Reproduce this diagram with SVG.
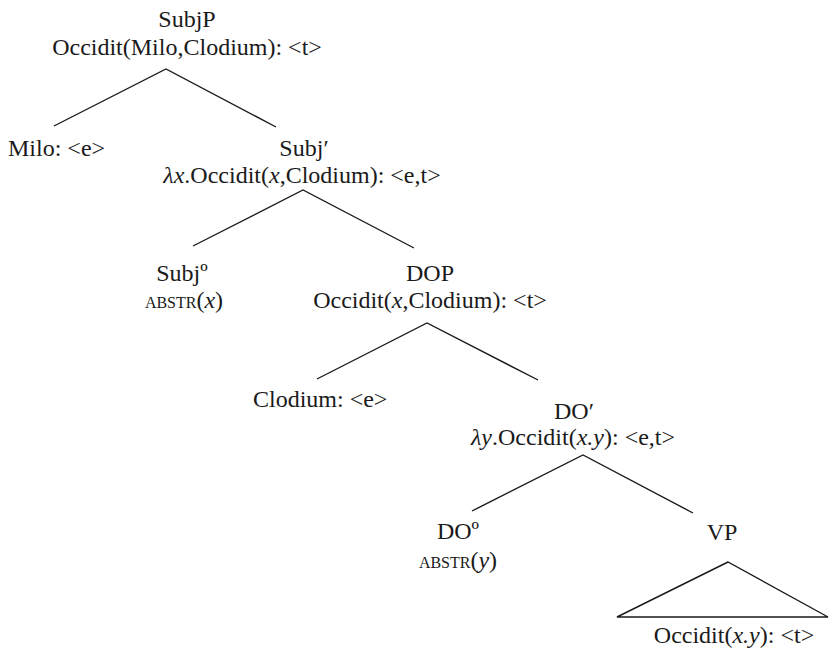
<svg xmlns="http://www.w3.org/2000/svg" width="829" height="650" viewBox="0 0 829 650">
<style>
text{font-family:"Liberation Serif","Times New Roman",serif;font-size:24px;fill:#1a1a1a}
.m{text-anchor:middle}
.i{font-style:italic}
.sc{font-size:16px}
.ln{stroke:#1a1a1a;stroke-width:1.4;fill:none}
</style>
<rect width="829" height="650" fill="#fff"/>
<g id="connectors">
<polyline class="ln" points="54,126 166,69 276,127"/>
<polyline class="ln" points="193,246 303,190 414,248"/>
<polyline class="ln" points="317,379 427,323 538,380"/>
<polyline class="ln" points="472,511 583,455 693,513"/>
<polygon class="ln" points="728,562 617,617 828,617"/>
</g>
<g id="SubjP">
<text class="m" x="187" y="27">SubjP</text>
<text class="m" x="187" y="55">Occidit(Milo,Clodium): &lt;t&gt;</text>
</g>
<g id="Milo">
<text x="8" y="156">Milo: &lt;e&gt;</text>
</g>
<g id="SubjBar">
<text class="m" x="304" y="156">Subj′</text>
<text class="m" x="302" y="183"><tspan class="i">λx</tspan>.Occidit(<tspan class="i">x</tspan>,Clodium): &lt;e,t&gt;</text>
</g>
<g id="SubjHead">
<text class="m" x="182" y="281">Subjº</text>
<text class="m" x="184" y="308"><tspan class="sc">ABSTR</tspan>(<tspan class="i">x</tspan>)</text>
</g>
<g id="DOP">
<text class="m" x="430" y="281">DOP</text>
<text class="m" x="430" y="308">Occidit(<tspan class="i">x</tspan>,Clodium): &lt;t&gt;</text>
</g>
<g id="Clodium">
<text x="253" y="407">Clodium: &lt;e&gt;</text>
</g>
<g id="DOBar">
<text class="m" x="574" y="419">DO′</text>
<text class="m" x="573" y="445"><tspan class="i">λy</tspan>.Occidit(<tspan class="i">x.y</tspan>): &lt;e,t&gt;</text>
</g>
<g id="DOHead">
<text class="m" x="458" y="539">DOº</text>
<text class="m" x="458" y="568"><tspan class="sc">ABSTR</tspan>(<tspan class="i">y</tspan>)</text>
</g>
<g id="VP">
<text class="m" x="722" y="540">VP</text>
<text class="m" x="734" y="643">Occidit(<tspan class="i">x.y</tspan>): &lt;t&gt;</text>
</g>
</svg>
